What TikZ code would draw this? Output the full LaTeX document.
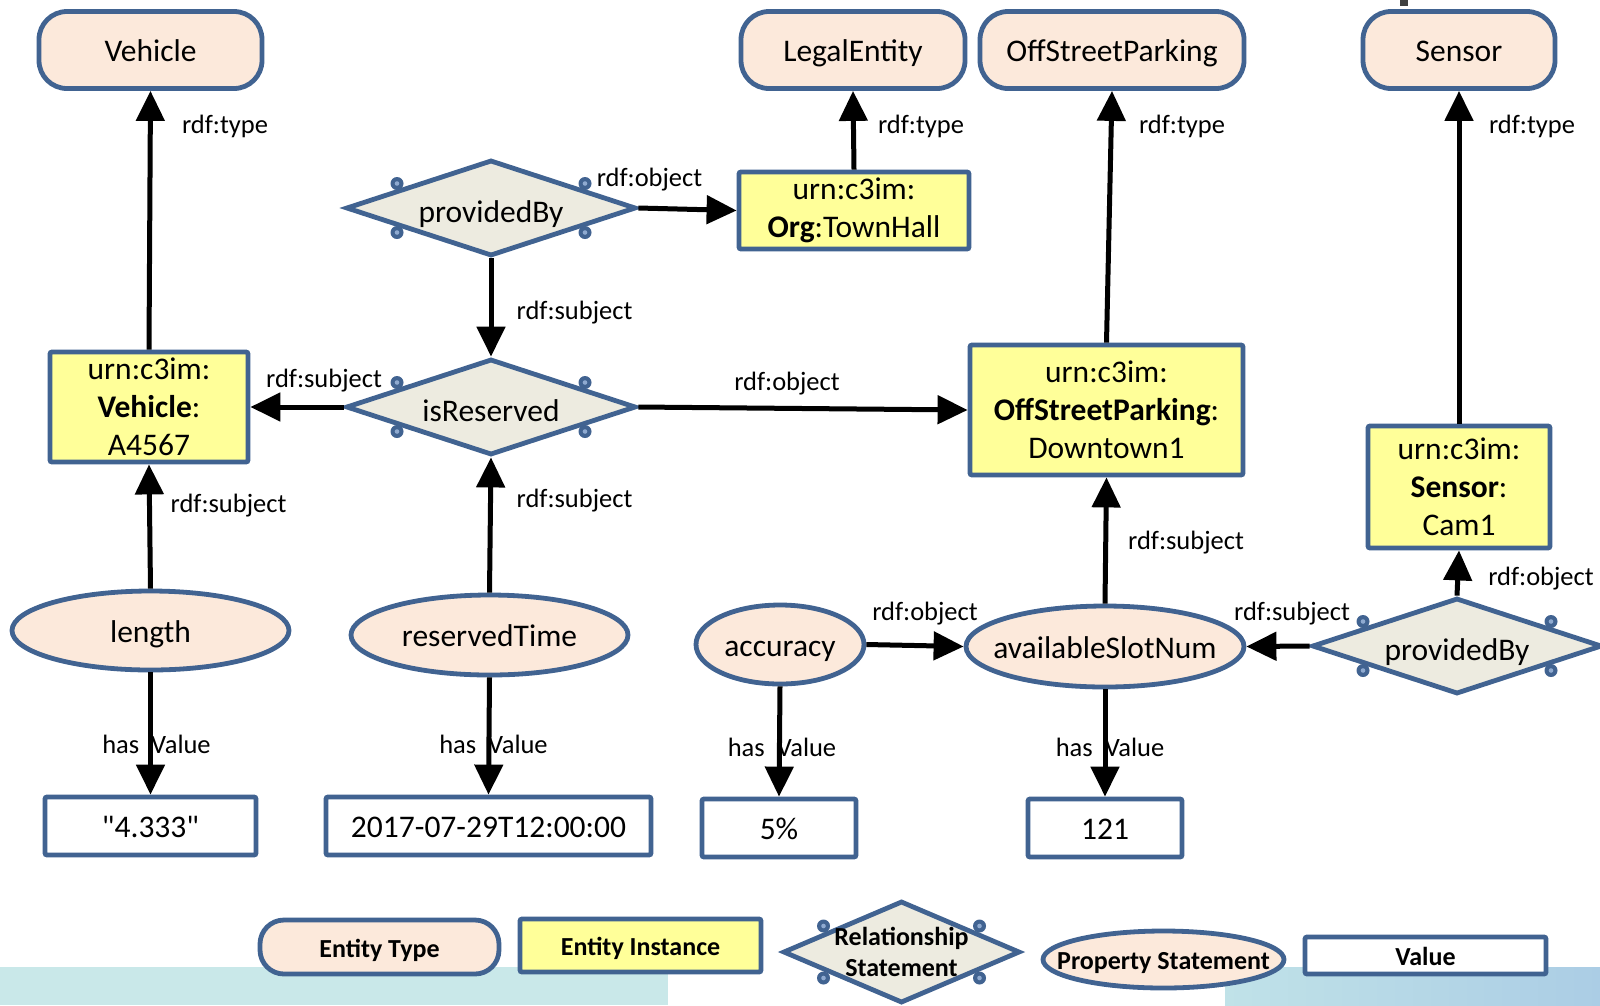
\documentclass[tikz,border=0pt]{standalone}
\usepackage{fontspec}
\setmainfont{Carlito}
\newfontfamily\rawquote{Carlito}
\usetikzlibrary{shapes.geometric,arrows.meta}
\definecolor{nodeblue}{HTML}{416391}
\definecolor{peach}{HTML}{FCE9DB}
\definecolor{instyellow}{HTML}{FFFF99}
\definecolor{relfill}{HTML}{EDEBE0}
\definecolor{dotcore}{HTML}{8FAAD0}
\definecolor{bandteal}{HTML}{C9E8E9}
\definecolor{bandblueA}{HTML}{C0E2E8}
\definecolor{bandblueB}{HTML}{ABCDE5}
\newcommand{\mainsize}{\fontsize{31.5}{38}\selectfont}
\newcommand{\labsize}{\fontsize{26.5}{31}\selectfont}
\newcommand{\legsize}{\fontsize{26}{31}\selectfont\bfseries}
\newcommand{\zw}[1]{\makebox[0pt]{#1}}
\newcommand{\dq}{{\rawquote\symbol{34}}}
% four small connection dots around a relationship diamond
\newcommand{\reldots}[3]{%
  \foreach \sx in {-1,1}{\foreach \sy in {-1,1}{
    \fill[nodeblue] ([shift={(\sx*#2,\sy*#3)}]#1.center) circle (6.5pt);
    \fill[dotcore] ([shift={(\sx*#2,\sy*#3)}]#1.center) circle (2.3pt);
  }}}
\tikzset{
  nodebase/.style={draw=nodeblue, line width=4.8pt, inner sep=0pt, align=center},
  oneline/.style={text height=26pt, text depth=3pt},
  etype/.style={nodebase, oneline, fill=peach, rounded corners=28pt, minimum height=77pt, font=\mainsize},
  einst/.style={nodebase, fill=instyellow, rounded corners=2pt, font=\mainsize},
  relnode/.style={nodebase, diamond, aspect=3, fill=relfill, minimum width=290pt, minimum height=96pt, font=\mainsize, text height=30pt, text depth=2pt},
  propnode/.style={nodebase, oneline, ellipse, fill=peach, font=\mainsize},
  valnode/.style={nodebase, oneline, fill=white, rounded corners=2pt, minimum height=58pt, font=\mainsize},
  lab/.style={inner sep=0pt, font=\labsize, yshift=-2pt},
  link/.style={line width=5pt, -{Triangle[width=28pt,length=30pt]}},
  legfont/.style={font=\legsize, text height=22pt, text depth=2pt},
}
\begin{document}
\begin{tikzpicture}[x=1pt,y=-1pt]
\useasboundingbox (0,0) rectangle (1600,1005);
\fill[white] (0,0) rectangle (1600,1005);

% background band along the bottom edge
\fill[bandteal] (0,967) rectangle (668,1005);
\shade[left color=bandblueA, right color=bandblueB] (1225,967) rectangle (1600,1005);
\fill[black!75] (1400,0) rectangle (1408,6);

% entity types
\node[etype, minimum width=223pt] (tVeh) at (150.5,50) {Vehicle};
\node[etype, minimum width=224pt] (tLeg) at (853,50) {LegalEntity};
\node[etype, minimum width=264pt] (tOsp) at (1112,50) {OffStreetParking};
\node[etype, minimum width=192pt] (tSen) at (1459,50) {Sensor};

% entity instances
\node[einst, minimum width=230pt, minimum height=77pt] (iOrg) at (854,210.5) {urn:c3im:\\\textbf{Org}:TownHall};
\node[einst, minimum width=198pt, minimum height=110pt] (iVeh) at (149,407) {urn:c3im:\\\textbf{Vehicle}:\\A4567};
\node[einst, minimum width=273pt, minimum height=130pt] (iOsp) at (1106.5,410) {urn:c3im:\\\textbf{OffStreetParking}:\\Downtown1};
\node[einst, minimum width=182pt, minimum height=122pt] (iSen) at (1459,487) {urn:c3im:\\\textbf{Sensor}:\\Cam1};

% relationship statements
\node[relnode] (pb1) at (491,208) {providedBy};
\node[relnode] (isR) at (491,407) {isReserved};
\node[relnode] (pb2) at (1457,646) {providedBy};
\reldots{pb1}{94}{24.5}
\reldots{isR}{94}{24.5}
\reldots{pb2}{94}{24.5}

% property statements
\node[propnode, minimum width=277pt, minimum height=79pt] (pLen) at (150.5,630.5) {\zw{length}};
\node[propnode, minimum width=277pt, minimum height=80pt] (pRes) at (489.5,635) {\zw{reservedTime}};
\node[propnode, minimum width=168pt, minimum height=79pt] (pAcc) at (780,644.5) {\zw{accuracy}};
\node[propnode, minimum width=278pt, minimum height=81pt] (pSlot) at (1105,646.5) {\zw{availableSlotNum}};

% values
\node[valnode, minimum width=211pt] (vLen) at (150.5,826) {\dq4.333\dq};
\node[valnode, minimum width=325pt] (vRes) at (488.5,826) {2017-07-29T12:00:00};
\node[valnode, minimum width=154pt] (vAcc) at (779,828) {5\%};
\node[valnode, minimum width=154pt] (vSlot) at (1105,828) {121};

% connector labels
\node[lab] (l1) at (225,124.5) {rdf:type};
\node[lab] (l2) at (921,124.5) {rdf:type};
\node[lab] (l3) at (1182,124.5) {rdf:type};
\node[lab] (l4) at (1532,124.5) {rdf:type};
\node[lab] (l5) at (649.5,177.5) {rdf:object};
\node[lab] (l6) at (574.5,311) {rdf:subject};
\node[lab] (l7) at (324,378.5) {rdf:subject};
\node[lab] (l8) at (787,381.5) {rdf:object};
\node[lab] (l9) at (574.5,499) {rdf:subject};
\node[lab] (l10) at (228.5,504) {rdf:subject};
\node[lab] (l11) at (1186,541) {rdf:subject};
\node[lab] (l12) at (1541,576.5) {rdf:object};
\node[lab] (l13) at (925,612) {rdf:object};
\node[lab] (l14) at (1292,612) {rdf:subject};
\node[lab] (l15) at (156.5,742) {has\ \ Value};
\node[lab] (l16) at (493.5,742) {has\ \ Value};
\node[lab] (l17) at (782,745) {has\ \ Value};
\node[lab] (l18) at (1110,745) {has\ \ Value};

% connectors
\draw[link] (iVeh.north) -- (tVeh.south);
\draw[link] (iOrg.north) -- (tLeg.south);
\draw[link] (iOsp.north) -- (tOsp.south);
\draw[link] (iSen.north) -- (tSen.south);
\draw[link] (pb1.east) -- (iOrg.west);
\draw[link] (pb1.south) -- (isR.north);
\draw[link] (isR.west) -- (iVeh.east);
\draw[link] (isR.east) -- (iOsp.west);
\draw[link] (pRes.north) -- (isR.south);
\draw[link] (pLen.north) -- (iVeh.south);
\draw[link] (pLen.south) -- (vLen.north);
\draw[link] (pRes.south) -- (vRes.north);
\draw[link] (pAcc.south) -- (vAcc.north);
\draw[link] (pSlot.south) -- (vSlot.north);
\draw[link] (pAcc.east) -- (pSlot.west);
\draw[link] (pSlot.north) -- (iOsp.south);
\draw[link] (pb2.west) -- (pSlot.east);
\draw[link] (pb2.north) -- (iSen.south);

% legend
\node[etype, legfont, rounded corners=24pt, minimum width=239pt, minimum height=54pt] (lgType) at (379.5,947) {Entity Type};
\node[einst, legfont, minimum width=241pt, minimum height=53pt] (lgInst) at (640.5,945.5) {Entity Instance};
\node[relnode, minimum width=237pt, minimum height=102pt] (lgRel) at (901.5,952) {};
\node[font=\legsize, inner sep=0pt, align=center] (lgRelTxt) at (lgRel.center) {Relationship\\Statement};
\reldots{lgRel}{78}{26}
\node[propnode, legfont, minimum width=241pt, minimum height=57pt] (lgProp) at (1163.5,959.5) {\zw{Property Statement}};
\node[valnode, legfont, minimum width=241pt, minimum height=37pt] (lgVal) at (1425.5,955.5) {Value};
\end{tikzpicture}
\end{document}
